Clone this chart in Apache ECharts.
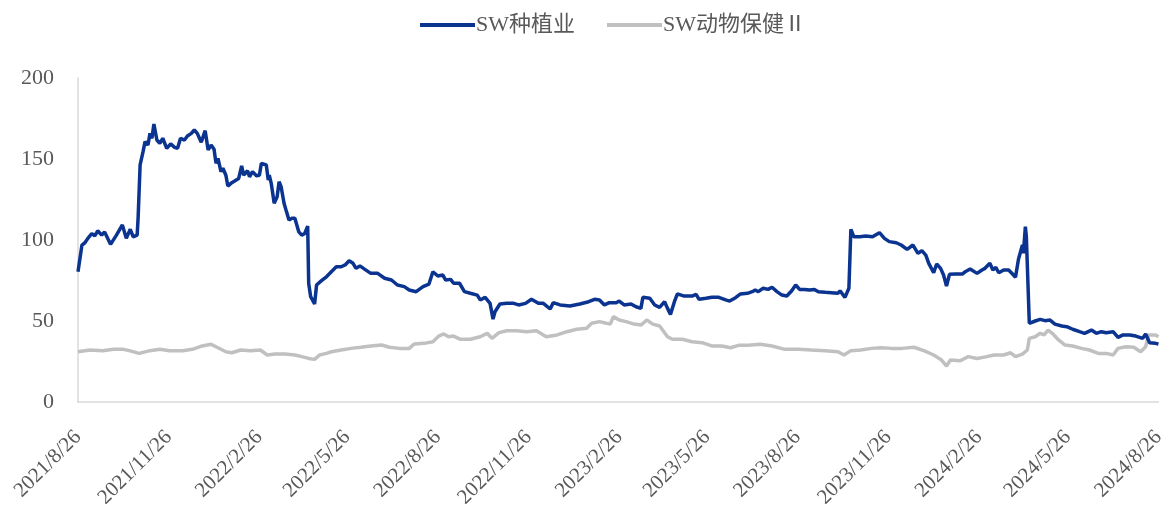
<!DOCTYPE html>
<html>
<head>
<meta charset="utf-8">
<script src="https://cdn.jsdelivr.net/npm/echarts@6/dist/echarts.min.js"></script>
<style>
  html, body { margin: 0; padding: 0; background: #fff; }
  #main { width: 1168px; height: 512px; }
</style>
</head>
<body>
<div id="main"></div>
<script>
// SW种植业
var zzDates = ['2021-08-26','2021-08-30','2021-09-02','2021-09-05','2021-09-09','2021-09-12','2021-09-15','2021-09-19','2021-09-22','2021-09-28',
  '2021-10-04','2021-10-10','2021-10-14','2021-10-18','2021-10-21','2021-10-25','2021-10-26','2021-10-28','2021-10-31','2021-11-02',
  '2021-11-05','2021-11-07','2021-11-09','2021-11-11','2021-11-14','2021-11-17','2021-11-20','2021-11-24','2021-11-28','2021-12-02',
  '2021-12-05','2021-12-08','2021-12-12','2021-12-15','2021-12-19','2021-12-22','2021-12-25','2021-12-29','2022-01-02','2022-01-05',
  '2022-01-08','2022-01-11','2022-01-13','2022-01-15','2022-01-18','2022-01-20','2022-01-23','2022-01-25','2022-01-29','2022-02-05',
  '2022-02-08','2022-02-10','2022-02-14','2022-02-16','2022-02-19','2022-02-23','2022-02-26','2022-02-28','2022-03-05','2022-03-07',
  '2022-03-08','2022-03-10','2022-03-13','2022-03-16','2022-03-18','2022-03-20','2022-03-23','2022-03-25','2022-03-28','2022-03-31',
  '2022-04-03','2022-04-07','2022-04-10','2022-04-13','2022-04-16','2022-04-17','2022-04-19','2022-04-23','2022-04-25','2022-04-30',
  '2022-05-05','2022-05-10','2022-05-15','2022-05-20','2022-05-24','2022-05-28','2022-06-01','2022-06-04','2022-06-08','2022-06-13',
  '2022-06-19','2022-06-26','2022-07-03','2022-07-10','2022-07-16','2022-07-23','2022-07-28','2022-08-04','2022-08-11','2022-08-17',
  '2022-08-21','2022-08-26','2022-08-31','2022-09-03','2022-09-08','2022-09-11','2022-09-17','2022-09-22','2022-09-28','2022-10-05',
  '2022-10-08','2022-10-13','2022-10-18','2022-10-21','2022-10-23','2022-10-28','2022-11-04','2022-11-11','2022-11-16','2022-11-23',
  '2022-11-29','2022-12-06','2022-12-11','2022-12-18','2022-12-21','2022-12-28','2023-01-07','2023-01-17','2023-01-26','2023-02-01',
  '2023-02-06','2023-02-11','2023-02-16','2023-02-23','2023-02-26','2023-03-03','2023-03-10','2023-03-15','2023-03-20','2023-03-22',
  '2023-03-29','2023-04-03','2023-04-08','2023-04-13','2023-04-16','2023-04-19','2023-04-23','2023-04-26','2023-05-03','2023-05-11',
  '2023-05-15','2023-05-18','2023-05-25','2023-05-31','2023-06-07','2023-06-14','2023-06-18','2023-06-24','2023-06-29','2023-07-06',
  '2023-07-11','2023-07-14','2023-07-17','2023-07-22','2023-07-27','2023-07-31','2023-08-05','2023-08-10','2023-08-15','2023-08-20',
  '2023-08-24','2023-08-28','2023-09-02','2023-09-07','2023-09-12','2023-09-16','2023-09-23','2023-09-29','2023-10-06','2023-10-08',
  '2023-10-13','2023-10-17','2023-10-19','2023-10-22','2023-10-28','2023-11-03','2023-11-10','2023-11-17','2023-11-22','2023-11-27',
  '2023-12-04','2023-12-09','2023-12-15','2023-12-21','2023-12-26','2023-12-30','2024-01-03','2024-01-06','2024-01-11','2024-01-14',
  '2024-01-18','2024-01-21','2024-01-24','2024-01-27','2024-02-02','2024-02-09','2024-02-12','2024-02-17','2024-02-24','2024-02-29',
  '2024-03-03','2024-03-08','2024-03-11','2024-03-14','2024-03-17','2024-03-22','2024-03-27','2024-03-31','2024-04-03','2024-04-06',
  '2024-04-08','2024-04-10','2024-04-11','2024-04-13','2024-04-14','2024-04-17','2024-04-23','2024-04-28','2024-05-03','2024-05-08',
  '2024-05-13','2024-05-20','2024-05-25','2024-05-31','2024-06-07','2024-06-12','2024-06-19','2024-06-24','2024-06-29','2024-07-04',
  '2024-07-11','2024-07-16','2024-07-21','2024-07-28','2024-08-03','2024-08-10','2024-08-13','2024-08-17','2024-08-23','2024-08-26'];
var zzValues = [80.4,96.9,98.3,101,104,102.5,105.7,103,105,97.3,
  103,109.3,101,106.6,102,103,114,146.3,154.5,160.7,
  158.6,165.8,162.8,171.6,161.7,159.7,162.8,156.6,159.3,157.2,
  156.6,162.8,161.7,164.2,165.8,167.9,165.8,160.3,167.5,155.6,
  158.6,156,147.3,150.4,142.2,144.3,140,133.3,135.4,138,
  145.7,140,142.8,139,142.2,139.7,140,147.3,146.3,137,
  140,135,122.7,126.7,136,133,122.7,118.5,112.3,113.4,
  113.4,105,103,104,108.6,73.3,65,60.5,72.2,74.9,
  77.3,80.4,83.5,83.5,84.6,87.2,85.6,82.5,84,81.9,
  79.4,79.4,76.4,75.3,72.2,71.2,69.1,68.1,71.2,72.8,
  80.4,77.8,78.4,75.3,75.7,73.3,73.3,68.1,67.1,66,
  63,64.6,60.9,51.2,55.7,60.5,60.9,60.9,59.9,60.9,
  63.4,60.9,60.9,57.4,61.3,59.9,59.3,60.5,61.9,63.4,
  63,59.9,61.3,61.3,62.3,59.9,60.5,58.8,57.8,64.6,
  64,59.9,58.4,61.9,57.8,54.1,61.9,66.7,65.4,65.4,
  66.5,63.4,64,64.6,64.6,63,62.3,64.4,66.7,67.1,
  68.1,69.1,68.1,70.2,69.5,70.8,68.1,66,65.4,68.7,
  72.2,69.5,69.5,69.1,69.5,68.1,67.7,67.5,67.1,68.7,
  64.6,70.2,106.6,102,102,102.5,102,104.5,101,99,
  98.3,96.9,94.2,96.9,91.8,93.4,90.7,85.6,79.8,85.2,
  82.5,78.4,71.6,78.8,79,79,80.4,82.1,79.4,81.5,
  82.5,85.6,81.5,83.1,79.8,81.5,81.5,79,77,88.1,
  88.1,96.9,91.8,108.2,102,48.6,50,51,50.2,50.6,
  48.1,46.9,46.5,44.9,43.4,42.4,44.4,42.4,43.4,42.8,
  43.4,39.9,41.4,41.4,40.7,39.3,42,36.6,36.2,35.8];

// SW动物保健Ⅱ
var dwDates = ['2021-08-26','2021-09-07','2021-09-20','2021-10-01','2021-10-11','2021-10-17','2021-10-27','2021-11-07','2021-11-17','2021-11-27',
  '2021-12-10','2021-12-20','2021-12-30','2022-01-08','2022-01-14','2022-01-23','2022-01-29','2022-02-07','2022-02-17','2022-02-27',
  '2022-03-06','2022-03-14','2022-03-24','2022-04-03','2022-04-10','2022-04-17','2022-04-23','2022-04-28','2022-05-05','2022-05-10',
  '2022-05-20','2022-05-30','2022-06-09','2022-06-19','2022-06-30','2022-07-08','2022-07-18','2022-07-28','2022-08-02','2022-08-12',
  '2022-08-21','2022-08-27','2022-09-01','2022-09-06','2022-09-11','2022-09-18','2022-09-28','2022-10-08','2022-10-15','2022-10-20',
  '2022-10-27','2022-11-04','2022-11-14','2022-11-24','2022-12-04','2022-12-14','2022-12-25','2023-01-04','2023-01-14','2023-01-24',
  '2023-01-29','2023-02-06','2023-02-13','2023-02-17','2023-02-20','2023-02-26','2023-03-05','2023-03-13','2023-03-20','2023-03-26',
  '2023-04-01','2023-04-08','2023-04-16','2023-04-21','2023-05-01','2023-05-11','2023-05-21','2023-05-31','2023-06-10','2023-06-19',
  '2023-06-27','2023-07-07','2023-07-19','2023-07-31','2023-08-13','2023-08-27','2023-09-09','2023-09-23','2023-10-06','2023-10-12',
  '2023-10-19','2023-10-29','2023-11-09','2023-11-19','2023-11-29','2023-12-10','2023-12-22','2024-01-01','2024-01-11','2024-01-19',
  '2024-01-24','2024-01-28','2024-02-07','2024-02-15','2024-02-24','2024-03-05','2024-03-12','2024-03-22','2024-03-29','2024-04-03',
  '2024-04-10','2024-04-15','2024-04-17','2024-04-23','2024-04-28','2024-05-02','2024-05-06','2024-05-11','2024-05-16','2024-05-23',
  '2024-05-31','2024-06-09','2024-06-17','2024-06-26','2024-07-04','2024-07-11','2024-07-16','2024-07-24','2024-08-01','2024-08-08',
  '2024-08-13','2024-08-16','2024-08-23','2024-08-26'];
var dwValues = [31,32.1,31.7,32.5,32.5,31.7,30,31.7,32.5,31.7,
  31.7,32.5,34.6,35.6,33.8,31,30.4,32.1,31.7,32.1,
  29,29.6,29.6,29,28,26.9,26.3,29,30,31,
  32.1,33.1,33.8,34.6,35.2,33.8,33.1,33.1,35.8,36.2,
  37.2,40.7,42,40.3,40.7,38.7,38.7,40.3,42.4,39.3,
  42.8,44,44,43.4,44,40.3,41.4,43.4,44.9,45.5,
  48.6,49.6,48.6,48.1,52.7,50.6,49.6,48.1,47.5,50.6,
  48.1,46.9,40.3,38.7,38.7,37.2,36.6,34.6,34.6,33.5,
  35,35,35.6,34.6,32.5,32.5,32.1,31.7,31,29,
  31.7,32.1,33.1,33.5,33.1,33.1,33.8,31.7,29,25.9,
  22.2,25.9,25.5,28,26.9,28,29,29,30.4,28,
  29.6,32.1,39.3,40.3,42.4,41.4,44.4,42,38.7,35.2,
  34.6,33.1,32.1,30,30,29,33.1,34.1,33.8,31,
  34.1,41.4,41.4,40.3];

// 横轴刻度：每三个月
var tickLabels = ['2021/8/26','2021/11/26','2022/2/26','2022/5/26','2022/8/26','2022/11/26','2023/2/26',
  '2023/5/26','2023/8/26','2023/11/26','2024/2/26','2024/5/26','2024/8/26'];
var yTicks = [0, 50, 100, 150, 200];

function toTime(s) {
  var p = s.split(/[-\/]/);
  return new Date(+p[0], +p[1] - 1, +p[2]).getTime();
}
function pairs(ds, vs) {
  return ds.map(function (d, i) { return [toTime(d), vs[i]]; });
}

var font = "'Liberation Serif', 'Noto Sans CJK SC', serif";
var myChart = echarts.init(document.getElementById('main'));
var option = {
  animation: false,
  legend: {
    left: 415,
    top: 9,
    icon: 'rect',
    itemWidth: 55,
    itemHeight: 4,
    itemGap: 32,
    textStyle: { fontFamily: font, fontSize: 22, color: '#595959', padding: [0, 0, 0, -4] },
    data: ['SW种植业', 'SW动物保健Ⅱ']
  },
  grid: { left: 78, right: 2, top: 78, bottom: 110, containLabel: false },
  xAxis: {
    type: 'time',
    min: toTime(tickLabels[0]),
    max: toTime(tickLabels[tickLabels.length - 1]),
    axisLine: { show: true, lineStyle: { color: '#D9D9D9', width: 1.5 } },
    axisTick: { show: false },
    splitLine: { show: false },
    axisLabel: {
      customValues: tickLabels.map(toTime),
      rotate: 45,
      margin: 32,
      fontFamily: font,
      fontSize: 21,
      color: '#595959',
      formatter: '{yyyy}/{M}/{d}',
      showMinLabel: true,
      showMaxLabel: true,
      hideOverlap: false
    }
  },
  yAxis: {
    type: 'value',
    min: yTicks[0],
    max: yTicks[yTicks.length - 1],
    interval: 50,
    axisLine: { show: true, lineStyle: { color: '#D9D9D9', width: 1.5 } },
    axisTick: { show: false },
    splitLine: { show: false },
    axisLabel: { margin: 24, fontFamily: font, fontSize: 22, color: '#595959' }
  },
  series: [
    {
      name: 'SW种植业',
      type: 'line',
      symbol: 'none',
      data: pairs(zzDates, zzValues),
      lineStyle: { color: '#0B3390', width: 3.5 },
      itemStyle: { color: '#0B3390' },
      z: 3
    },
    {
      name: 'SW动物保健Ⅱ',
      type: 'line',
      symbol: 'none',
      data: pairs(dwDates, dwValues),
      lineStyle: { color: '#C0C0C0', width: 3.5 },
      itemStyle: { color: '#C0C0C0' },
      z: 2
    }
  ]
};
myChart.setOption(option);
</script>
</body>
</html>
